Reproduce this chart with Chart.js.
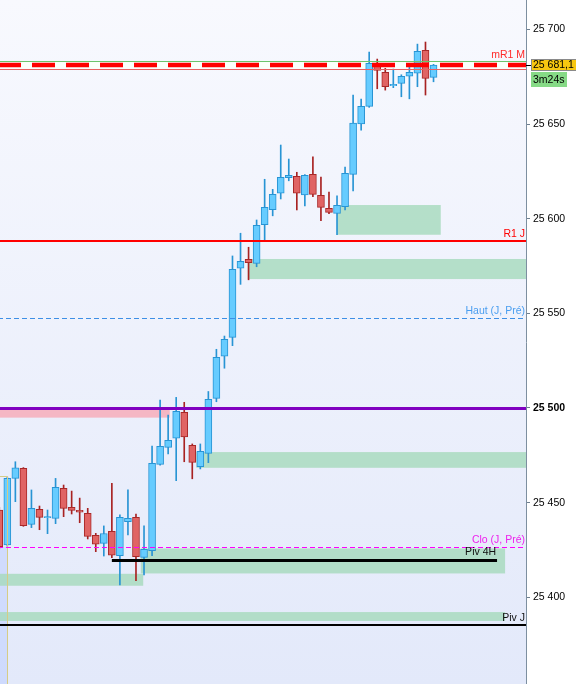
<!DOCTYPE html>
<html>
<head>
<meta charset="utf-8">
<script src="https://cdn.jsdelivr.net/npm/chart.js@4.4.1/dist/chart.umd.min.js"></script>
<style>
  html, body { margin: 0; padding: 0; background: #fff; }
  #wrap { width: 576px; height: 684px; }
</style>
</head>
<body>
<div id="wrap"><canvas id="chart" width="576" height="684"></canvas></div>
<script>
// candles, oldest first (prices)
const opens  = [25446.1, 25427.6, 25462.8, 25468.1, 25438.5, 25446.5, 25442.0, 25441.7, 25457.6, 25447.5,
                25446.0, 25444.4, 25432.7, 25428.5, 25434.9, 25422.0, 25439.9, 25442.2, 25421.1, 25424.6,
                25470.2, 25479.2, 25484.0, 25497.7, 25480.3, 25469.0, 25476.0, 25505.1, 25527.3, 25537.3,
                25573.8, 25578.5, 25576.4, 25596.8, 25604.7, 25613.4, 25621.6, 25622.4, 25612.6, 25623.4,
                25612.3, 25605.5, 25602.8, 25606.3, 25623.4, 25650.0, 25659.3, 25682.0, 25677.3, 25670.2,
                25671.5, 25675.2, 25676.8, 25688.9, 25674.6];
const highs  = [25447.5, 25463.5, 25471.6, 25468.5, 25456.7, 25448.2, 25446.1, 25462.8, 25459.3, 25456.1,
                25452.4, 25447.0, 25433.8, 25437.7, 25460.2, 25443.5, 25456.7, 25444.0, 25437.7, 25479.9,
                25504.2, 25496.3, 25505.6, 25503.0, 25481.0, 25481.0, 25508.7, 25531.0, 25538.0, 25580.3,
                25592.3, 25584.9, 25599.3, 25620.8, 25615.5, 25638.9, 25631.5, 25624.5, 25623.3, 25632.6,
                25622.0, 25614.1, 25612.0, 25627.3, 25665.3, 25663.2, 25688.0, 25684.3, 25679.4, 25679.0,
                25676.0, 25680.2, 25692.2, 25693.3, 25681.5];
const lows   = [25425.5, 25427.0, 25450.5, 25437.5, 25436.8, 25435.7, 25433.6, 25438.9, 25442.6, 25444.0,
                25439.4, 25430.8, 25424.1, 25421.8, 25420.9, 25406.5, 25432.9, 25408.8, 25411.8, 25422.0,
                25469.8, 25475.7, 25461.6, 25471.6, 25462.6, 25467.8, 25471.1, 25503.3, 25521.0, 25532.9,
                25565.3, 25567.7, 25574.6, 25588.4, 25601.5, 25610.4, 25620.0, 25604.6, 25606.7, 25611.6,
                25598.9, 25602.6, 25591.5, 25604.6, 25614.6, 25646.8, 25658.8, 25668.6, 25667.9, 25669.2,
                25664.4, 25663.3, 25669.7, 25665.3, 25672.3];
const closes = [25426.7, 25462.8, 25468.4, 25437.8, 25447.0, 25442.2, 25442.6, 25458.1, 25447.0, 25445.9,
                25445.0, 25432.2, 25428.0, 25433.7, 25422.2, 25442.2, 25441.7, 25421.4, 25425.3, 25470.8,
                25479.7, 25482.9, 25498.2, 25484.7, 25471.3, 25477.1, 25504.6, 25526.8, 25536.3, 25573.2,
                25577.5, 25576.8, 25596.5, 25606.0, 25612.8, 25621.8, 25622.9, 25613.4, 25622.9, 25612.8,
                25606.0, 25603.3, 25607.0, 25623.9, 25650.5, 25659.3, 25682.0, 25678.3, 25669.7, 25670.9,
                25675.2, 25677.3, 25688.4, 25674.1, 25681.1];
const barIndex = opens.map((_, i) => i);

const yTicks = [25400, 25450, 25500, 25550, 25600, 25650, 25700];
const lastPrice = 25681.1;
const timerText = '3m24s';

// zones: [from bar, to bar, low, high]
const greenZones = [
  [42, 54.9, 25591.5, 25607.2],
  [30.9, 70, 25568.1, 25578.7],
  [24.5, 70, 25468.4, 25476.7],
  [17.6, 62.9, 25412.6, 25425.8],
  [-2, 17.9, 25406.1, 25412.4],
  [-2, 62.9, 25387.5, 25392.2]
];
const pinkZone = [-2, 21.2, 25494.9, 25500];
const mBand = [25679.2, 25683.1];

const levelNames  = ['mR1 M', 'R1 J', 'Haut (J, Pré)', '', 'Clo (J, Pré)', 'Piv 4H', 'Piv J'];
const levelPrices = [25681.4, 25588.3, 25547.5, 25500, 25426.7, 25419.7, 25385.4];
const levelFrom   = [-2, -2, -2, -2, -2, 14.0, -2];
const levelTo     = [70, 70, 70, 70, 70, 61.9, 70];

const levelStyle = [
  { color: '#ff0000', width: 4.5, dash: [23, 11], text: '#ff2a2a' },
  { color: '#ff0000', width: 2, dash: [], text: '#ff0000' },
  { color: '#3d8fe6', width: 1, dash: [5, 3], text: '#4a9ef0' },
  { color: '#8000c0', width: 3, dash: [], text: '#8000c0' },
  { color: '#ff00ff', width: 1, dash: [5, 3], text: '#ee22ee' },
  { color: '#000000', width: 3, dash: [], text: '#101010' },
  { color: '#000000', width: 2, dash: [], text: '#101010' }
];

const up = barIndex.map(i => closes[i] >= opens[i]);
const FONT = '"Liberation Sans", Arial, sans-serif';

const overlay = {
  id: 'overlay',
  beforeDraw(chart) {
    const { ctx, chartArea: a } = chart;
    const g = ctx.createLinearGradient(0, a.top, 0, a.bottom);
    g.addColorStop(0, '#f8f9fe');
    g.addColorStop(1, '#e3e9fa');
    ctx.save();
    ctx.fillStyle = g;
    ctx.fillRect(a.left, a.top, a.right - a.left, a.bottom - a.top);
    ctx.restore();
  },
  beforeDatasetsDraw(chart) {
    const { ctx, chartArea: a, scales: { x, y } } = chart;
    ctx.save();
    ctx.beginPath();
    ctx.rect(a.left, a.top, a.right - a.left, a.bottom - a.top);
    ctx.clip();
    // bluish session box bottom-left
    ctx.fillStyle = 'rgba(190,205,255,0.55)';
    const bx = x.getPixelForValue(1);
    ctx.fillRect(a.left, y.getPixelForValue(levelPrices[4]), bx - a.left, a.bottom);
    // zones
    ctx.fillStyle = 'rgba(165,218,188,0.8)';
    greenZones.forEach(z => {
      const x0 = x.getPixelForValue(z[0]), x1 = x.getPixelForValue(z[1]);
      const y0 = y.getPixelForValue(z[3]), y1 = y.getPixelForValue(z[2]);
      ctx.fillRect(x0, y0, x1 - x0, y1 - y0);
    });
    ctx.fillStyle = '#f5b7c4';
    {
      const x0 = x.getPixelForValue(pinkZone[0]), x1 = x.getPixelForValue(pinkZone[1]);
      const y0 = y.getPixelForValue(pinkZone[3]), y1 = y.getPixelForValue(pinkZone[2]);
      ctx.fillRect(x0, y0, x1 - x0, y1 - y0);
    }
    // band around mR1
    const b0 = y.getPixelForValue(mBand[1]), b1 = y.getPixelForValue(mBand[0]);
    ctx.fillStyle = 'rgba(250,255,250,0.95)';
    ctx.fillRect(a.left, b0, a.right - a.left, b1 - b0);
    ctx.restore();
  },
  afterDatasetsDraw(chart) {
    const { ctx, chartArea: a, scales: { x, y } } = chart;
    ctx.save();
    ctx.beginPath();
    ctx.rect(a.left, a.top, a.right - a.left, a.bottom - a.top);
    ctx.clip();
    // band borders
    const b0 = Math.round(y.getPixelForValue(mBand[1])) + 0.5;
    const b1 = Math.round(y.getPixelForValue(mBand[0])) + 0.5;
    ctx.lineWidth = 1;
    ctx.strokeStyle = '#6cc46c';
    ctx.beginPath(); ctx.moveTo(a.left, b0); ctx.lineTo(a.right, b0); ctx.stroke();
    ctx.strokeStyle = '#e86060';
    ctx.beginPath(); ctx.moveTo(a.left, b1); ctx.lineTo(a.right, b1); ctx.stroke();
    // yellow outline box
    ctx.strokeStyle = '#d6cc86';
    const bx = Math.round(x.getPixelForValue(1)) + 0.5;
    const by = Math.round(y.getPixelForValue(25463.9)) + 0.5;
    ctx.beginPath(); ctx.moveTo(a.left - 2, by); ctx.lineTo(bx, by); ctx.lineTo(bx, a.bottom + 2); ctx.stroke();
    // levels
    ctx.font = '10.5px ' + FONT;
    ctx.textAlign = 'right';
    ctx.textBaseline = 'bottom';
    levelPrices.forEach((p, i) => {
      const s = levelStyle[i];
      const py = y.getPixelForValue(p);
      const x0 = Math.max(a.left - 2, x.getPixelForValue(levelFrom[i]));
      const x1 = Math.min(a.right, x.getPixelForValue(levelTo[i]));
      ctx.strokeStyle = s.color;
      ctx.lineWidth = s.width;
      ctx.setLineDash(s.dash);
      const yy = s.width % 2 === 1 ? Math.round(py) + 0.5 : Math.round(py);
      ctx.beginPath(); ctx.moveTo(x0, yy); ctx.lineTo(x1, yy); ctx.stroke();
      ctx.setLineDash([]);
      if (levelNames[i]) {
        ctx.fillStyle = s.text;
        const lift = i === 0 ? 5 : Math.ceil(s.width / 2) + 1;
        ctx.fillText(levelNames[i], x1 - 1, yy - lift);
      }
    });
    ctx.restore();
  },
  afterDraw(chart) {
    const { ctx, chartArea: a, scales: { y } } = chart;
    const py = Math.round(y.getPixelForValue(lastPrice));
    ctx.save();
    ctx.strokeStyle = '#000';
    ctx.lineWidth = 1;
    ctx.beginPath(); ctx.moveTo(a.right, py + 0.5); ctx.lineTo(a.right + 5, py + 0.5); ctx.stroke();
    // price box
    ctx.fillStyle = '#f8c710';
    ctx.fillRect(a.right + 5, py - 6, 60, 12);
    ctx.strokeStyle = '#8a8a8a';
    ctx.strokeRect(a.right + 5.5, py - 5.5, 60, 11);
    ctx.fillStyle = '#000';
    ctx.font = '10.5px ' + FONT;
    ctx.textAlign = 'left';
    ctx.textBaseline = 'middle';
    const txt = lastPrice.toFixed(1).replace('.', ',').replace(/^(\d\d)(\d{3})/, '$1 $2');
    ctx.fillText(txt, a.right + 7, py + 0.5);
    // timer box
    ctx.fillStyle = '#86da86';
    ctx.fillRect(a.right + 5, py + 7, 36, 15);
    ctx.fillStyle = '#000';
    ctx.fillText(timerText, a.right + 7, py + 15);
    ctx.restore();
  }
};

new Chart(document.getElementById('chart'), {
  type: 'bar',
  data: {
    datasets: [
      {
        label: 'wick',
        data: barIndex.map(i => ({ x: i, y: [lows[i], highs[i]] })),
        backgroundColor: barIndex.map(i => up[i] ? '#2894d4' : '#a82222'),
        borderWidth: 0,
        barThickness: 1,
        grouped: false,
        order: 2
      },
      {
        label: 'body',
        data: barIndex.map(i => ({ x: i, y: [opens[i], closes[i]] })),
        backgroundColor: barIndex.map(i => up[i] ? '#66ccff' : '#e06464'),
        borderColor: barIndex.map(i => up[i] ? '#2894d4' : '#a82828'),
        borderWidth: 1,
        borderSkipped: false,
        barThickness: 7,
        grouped: false,
        order: 1
      }
    ]
  },
  options: {
    responsive: false,
    animation: false,
    devicePixelRatio: 1,
    layout: { padding: 0 },
    plugins: { legend: { display: false }, tooltip: { enabled: false } },
    events: [],
    scales: {
      x: {
        type: 'linear',
        min: 0.09,
        max: 65.5,
        offset: false,
        display: false
      },
      y: {
        position: 'right',
        min: 25354.2,
        max: 25715.5,
        afterBuildTicks: s => { s.ticks = yTicks.map(v => ({ value: v })); },
        afterFit: s => { s.width = 50; s.paddingTop = 0; s.paddingBottom = 0; },
        grid: { drawOnChartArea: false, drawTicks: true, tickLength: 4, color: '#6f7f90' },
        border: { display: true, color: '#7d8fa0', width: 1 },
        ticks: {
          padding: 3,
          color: '#000',
          font: c => ({ family: FONT, size: 10.5, weight: c.tick && c.tick.value === 25500 ? 'bold' : 'normal' }),
          callback: v => String(v).replace(/^(\d\d)(\d{3})$/, '$1 $2')
        }
      }
    }
  },
  plugins: [overlay]
});
</script>
</body>
</html>
